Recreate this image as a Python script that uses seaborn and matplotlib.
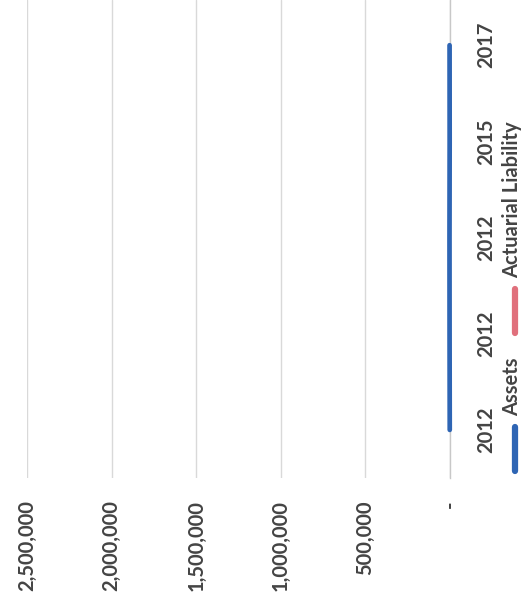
import matplotlib
matplotlib.use("Agg")
import matplotlib.pyplot as plt
import seaborn as sns
import pandas as pd
import numpy as np
from matplotlib.lines import Line2D

# ---- data ----
categories = ["2012", "2012", "2012", "2015", "2017"]
assets = [1500, 2500, 3000, 2000, 2500]
actuarial_liability = [np.nan, np.nan, np.nan, np.nan, np.nan]
value_ticks = [0, 500000, 1000000, 1500000, 2000000, 2500000]
value_tick_labels = ["-", "500,000", "1,000,000", "1,500,000", "2,000,000", "2,500,000"]
series_names = ["Assets", "Actuarial Liability"]
series_colors = ["#2E65B4", "#E0707C"]

sns.set_style("white")
plt.rcParams["font.family"] = ["Lato", "DejaVu Sans"]
TEXT = "#444444"
FS = 14.5
FW = "bold"

W, H = 527, 603
fig = plt.figure(figsize=(W / 100, H / 100), dpi=100)
fig.patch.set_facecolor("white")

ax_left, ax_right, ax_bottom_px = 27, 450, 478
ax = fig.add_axes([ax_left / W, (H - ax_bottom_px) / H, (ax_right - ax_left) / W, ax_bottom_px / H])

pos = list(range(len(categories)))
df = pd.DataFrame({
    "pos": pos + pos,
    "value": assets + actuarial_liability,
    "series": [series_names[0]] * len(pos) + [series_names[1]] * len(pos),
})
df_plot = df.dropna()
sns.lineplot(data=df_plot, x="value", y="pos", hue="series", hue_order=series_names,
             palette=dict(zip(series_names, series_colors)), estimator=None, sort=False,
             orient="y", linewidth=3.4, legend=False, clip_on=False, zorder=5, ax=ax)

ax.set_xlim(2500000, 0)
ax.set_ylim(-0.5, 4.47)

ax.grid(axis="x", color="#D9D9D9", linewidth=1)
ax.grid(axis="y", visible=False)
for s in ["left", "top", "bottom"]:
    ax.spines[s].set_visible(False)
ax.spines["right"].set_color("#C8C8C8")
ax.spines["right"].set_linewidth(1)

ax.set_xticks(value_ticks)
ax.set_xticklabels(value_tick_labels, rotation=90, va="top", ha="center",
                   fontsize=FS, fontweight=FW, color=TEXT)
ax.tick_params(axis="x", length=0, pad=16)

ax.yaxis.tick_right()
ax.set_yticks(pos)
ax.set_yticklabels(categories, rotation=90, va="center", ha="left",
                   fontsize=FS, fontweight=FW, color=TEXT)
ax.tick_params(axis="y", length=0, pad=19)
ax.set_xlabel("")
ax.set_ylabel("")

# ---- legend (rotated, drawn manually) ----
leg_x = 515 / W
legend_items = [(series_names[0], series_colors[0], 471, 427, 416),
                (series_names[1], series_colors[1], 333, 289, 278)]
for name, col, y0, y1, ytext in legend_items:
    fig.add_artist(Line2D([leg_x, leg_x], [(H - y0) / H, (H - y1) / H],
                          transform=fig.transFigure, color=col, linewidth=4.5,
                          solid_capstyle="round"))
    fig.text(512 / W, (H - ytext) / H, name, rotation=90, ha="center", va="bottom",
             fontsize=FS, fontweight=FW, color=TEXT)

fig.savefig("out.png", dpi=100, facecolor="white")
